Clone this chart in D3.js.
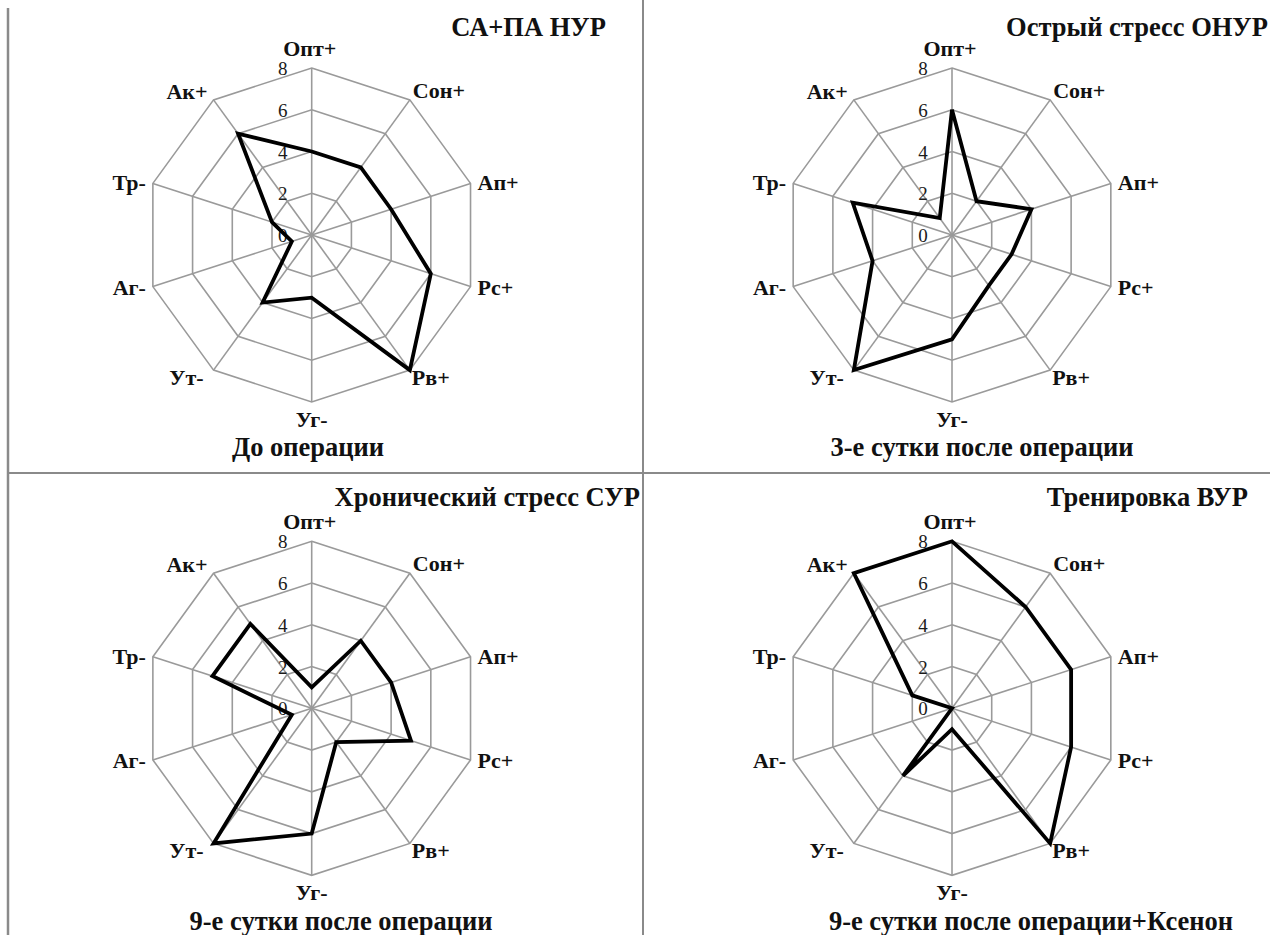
<!DOCTYPE html>
<html>
<head>
<meta charset="utf-8">
<script src="https://cdn.jsdelivr.net/npm/d3@7"></script>
<style>
  html, body { margin: 0; padding: 0; background: #ffffff; }
  svg { display: block; }
  text { font-family: "Liberation Serif", "Times New Roman", serif; }
</style>
</head>
<body>
<svg id="chart" width="1270" height="935"></svg>
<script>
// ---- data ----
const categories = ["Опт+", "Сон+", "Ап+", "Рс+", "Рв+", "Уг-", "Ут-", "Аг-", "Тр-", "Ак+"];
const tickValues = [0, 2, 4, 6, 8];
const titles = ["СА+ПА НУР", "Острый стресс ОНУР", "Хронический стресс СУР", "Тренировка ВУР"];
const subtitles = ["До операции", "3-е сутки после операции", "9-е сутки после операции", "9-е сутки после операции+Ксенон"];
const valuesBefore = [4, 4, 4, 6, 8, 3, 4, 1, 2, 6];
const valuesDay3   = [6, 2, 4, 3, 3, 5, 8, 4, 5, 1];
const valuesDay9   = [1, 4, 4, 5, 2, 6, 8, 1, 5, 5];
const valuesDay9X  = [8, 6, 6, 6, 8, 1, 4, 0, 2, 8];
const seriesList = [valuesBefore, valuesDay3, valuesDay9, valuesDay9X];

// ---- layout (positions/styles) ----
const layout = [
  { cx: 311.7, cy: 235,   tx: 606,  ty: 36,  sx: 308,  sy: 456 },
  { cx: 952,   cy: 235,   tx: 1268, ty: 36,  sx: 982,  sy: 456 },
  { cx: 311.7, cy: 708.3, tx: 640,  ty: 506, sx: 341,  sy: 930 },
  { cx: 952,   cy: 708.3, tx: 1248, ty: 506, sx: 1031, sy: 930 }
];
const R = 167;
// label offsets relative to the outer vertex: [dx, dy, anchor]
const labelOffsets = [
  [-2, -12, "middle"],
  [3, -2, "start"],
  [7, 7, "start"],
  [7, 8, "start"],
  [2, 15, "start"],
  [0, 25, "middle"],
  [-10, 15, "end"],
  [-7, 8, "end"],
  [-7, 7, "end"],
  [-6, -1, "end"]
];

const svg = d3.select("#chart");
const gridColor = "#9a9a9a";
const divColor = "#8a8a8a";

// dividers
svg.append("line").attr("x1", 8).attr("x2", 8).attr("y1", 8).attr("y2", 935)
  .attr("stroke", divColor).attr("stroke-width", 2.5);
svg.append("line").attr("x1", 643).attr("x2", 643).attr("y1", 0).attr("y2", 935)
  .attr("stroke", divColor).attr("stroke-width", 2);
svg.append("line").attr("x1", 8).attr("x2", 1270).attr("y1", 473).attr("y2", 473)
  .attr("stroke", divColor).attr("stroke-width", 2);

const rScale = d3.scaleLinear().domain([0, 8]).range([0, R]);
const aScale = d3.scaleLinear().domain([0, categories.length]).range([0, 2 * Math.PI]);

const radial = d3.lineRadial()
  .angle((d, i) => aScale(i))
  .radius(d => rScale(d))
  .curve(d3.curveLinearClosed);

seriesList.forEach((vals, p) => {
  const L = layout[p];
  const g = svg.append("g").attr("transform", `translate(${L.cx},${L.cy})`);

  // rings
  tickValues.filter(t => t > 0).forEach(t => {
    g.append("path")
      .attr("d", radial(categories.map(() => t)))
      .attr("fill", "none")
      .attr("stroke", gridColor)
      .attr("stroke-width", 1.6);
  });
  // spokes
  categories.forEach((c, i) => {
    const a = aScale(i);
    g.append("line")
      .attr("x1", 0).attr("y1", 0)
      .attr("x2", rScale(8) * Math.sin(a))
      .attr("y2", -rScale(8) * Math.cos(a))
      .attr("stroke", gridColor)
      .attr("stroke-width", 1.6);
  });
  // tick labels
  tickValues.forEach(t => {
    g.append("text")
      .attr("x", -29)
      .attr("y", -rScale(t) + 7)
      .attr("text-anchor", "middle")
      .attr("font-size", 19)
      .attr("fill", "#1a1a1a")
      .text(t);
  });
  // data line
  g.append("path")
    .attr("d", radial(vals))
    .attr("fill", "none")
    .attr("stroke", "#000")
    .attr("stroke-width", 3.8)
    .attr("stroke-linejoin", "miter");
  // category labels
  categories.forEach((c, i) => {
    const a = aScale(i);
    const vx = rScale(8) * Math.sin(a), vy = -rScale(8) * Math.cos(a);
    const o = labelOffsets[i];
    g.append("text")
      .attr("x", vx + o[0]).attr("y", vy + o[1])
      .attr("text-anchor", o[2])
      .attr("font-size", 22)
      .attr("font-weight", "bold")
      .attr("fill", "#111")
      .text(c);
  });
  // title
  svg.append("text")
    .attr("x", L.tx).attr("y", L.ty)
    .attr("text-anchor", "end")
    .attr("font-size", 26.5)
    .attr("font-weight", "bold")
    .attr("fill", "#111")
    .text(titles[p]);
  // subtitle
  svg.append("text")
    .attr("x", L.sx).attr("y", L.sy)
    .attr("text-anchor", "middle")
    .attr("font-size", 26.5)
    .attr("font-weight", "bold")
    .attr("fill", "#111")
    .text(subtitles[p]);
});
</script>
</body>
</html>
